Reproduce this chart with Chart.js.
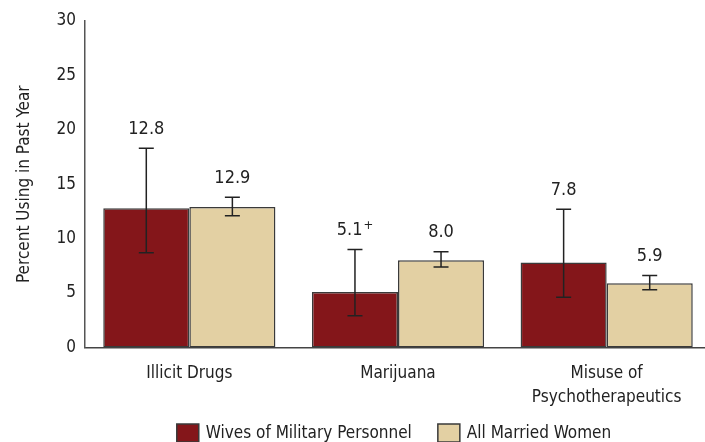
<!DOCTYPE html>
<html lang="en">
<head>
<meta charset="UTF-8">
<title>Past-Year Substance Use</title>
<script src="https://cdn.jsdelivr.net/npm/chart.js"></script>
<style>
  html, body { margin: 0; padding: 0; background: #fff; overflow: hidden; }
  .wrap { position: relative; width: 712px; height: 442px; }
</style>
</head>
<body>
<div class="wrap"><canvas id="useChart"></canvas></div>
<script>
const categories = ['Illicit Drugs', 'Marijuana', ['Misuse of', 'Psychotherapeutics']];

const wivesPct  = [12.8, 5.1, 7.8];
const wivesLow  = [8.7, 2.9, 4.6];
const wivesHigh = [18.3, 9.0, 12.7];
const wivesNotes = ['', '+', ''];

const allWomenPct  = [12.9, 8.0, 5.9];
const allWomenLow  = [12.1, 7.4, 5.3];
const allWomenHigh = [13.8, 8.8, 6.6];
const allWomenNotes = ['', '', ''];

const yMin = 0, yMax = 30, yStep = 5;

const FONT = '"Liberation Sans Narrow", "Arial Narrow", "DejaVu Sans Condensed", sans-serif';
const INK = '#222';

// error bars plus the value label sitting above each cap
const errorBars = {
  id: 'errorBars',
  afterDatasetsDraw(chart) {
    const ctx = chart.ctx;
    const y = chart.scales.y;
    ctx.save();
    chart.data.datasets.forEach((ds, i) => {
      chart.getDatasetMeta(i).data.forEach((bar, j) => {
        const top = y.getPixelForValue(ds.errHigh[j]);
        const bot = y.getPixelForValue(ds.errLow[j]);
        ctx.strokeStyle = INK;
        ctx.lineWidth = 1.5;
        ctx.beginPath();
        ctx.moveTo(bar.x, top); ctx.lineTo(bar.x, bot);
        ctx.moveTo(bar.x - 7.5, top); ctx.lineTo(bar.x + 7.5, top);
        ctx.moveTo(bar.x - 7.5, bot); ctx.lineTo(bar.x + 7.5, bot);
        ctx.stroke();

        const txt = ds.data[j].toFixed(1);
        const note = ds.notes[j];
        ctx.font = '18px ' + FONT;
        const w1 = ctx.measureText(txt).width;
        ctx.font = '13px ' + FONT;
        const w2 = note ? ctx.measureText(note).width + 1 : 0;
        const x0 = bar.x - (w1 + w2) / 2;
        ctx.fillStyle = INK;
        ctx.textAlign = 'left';
        ctx.textBaseline = 'middle';
        ctx.font = '18px ' + FONT;
        ctx.fillText(txt, x0, top - 19);
        if (note) {
          ctx.font = '13px ' + FONT;
          ctx.fillText(note, x0 + w1 + 1, top - 24);
        }
      });
    });
    ctx.restore();
  }
};

// legend row under the category labels
const bottomLegend = {
  id: 'bottomLegend',
  afterDraw(chart) {
    const ctx = chart.ctx;
    const area = chart.chartArea;
    ctx.save();
    ctx.font = '17px ' + FONT;
    const items = chart.data.datasets.map(ds => ({
      label: ds.label, color: ds.backgroundColor, w: ctx.measureText(ds.label).width
    }));
    const boxW = 22, boxH = 18, gap = 7, spacing = 26;
    let total = 0;
    items.forEach((it, k) => { total += boxW + gap + it.w + (k ? spacing : 0); });
    let x = (area.left + area.right) / 2 - total / 2 - 4;
    const cy = 434;
    items.forEach(it => {
      ctx.fillStyle = it.color;
      ctx.fillRect(x, 424, boxW, boxH);
      ctx.strokeStyle = '#3a3a3a';
      ctx.lineWidth = 1.5;
      ctx.strokeRect(x, 424, boxW, boxH);
      ctx.fillStyle = INK;
      ctx.textAlign = 'left';
      ctx.textBaseline = 'middle';
      ctx.fillText(it.label, x + boxW + gap, cy);
      x += boxW + gap + it.w + spacing;
    });
    ctx.restore();
  }
};

new Chart(document.getElementById('useChart'), {
  type: 'bar',
  data: {
    labels: categories,
    datasets: [
      {
        label: 'Wives of Military Personnel',
        data: wivesPct, errLow: wivesLow, errHigh: wivesHigh, notes: wivesNotes,
        backgroundColor: '#84161a', borderColor: '#3a3a3a', borderWidth: 1.5, borderSkipped: false,
        categoryPercentage: 0.825, barPercentage: 1.0
      },
      {
        label: 'All Married Women',
        data: allWomenPct, errLow: allWomenLow, errHigh: allWomenHigh, notes: allWomenNotes,
        backgroundColor: '#e3d0a3', borderColor: '#3a3a3a', borderWidth: 1.5, borderSkipped: false,
        categoryPercentage: 0.825, barPercentage: 1.0
      }
    ]
  },
  options: {
    responsive: true,
    maintainAspectRatio: false,
    animation: false,
    layout: { padding: { top: 21, right: 1, bottom: 19, left: 0 } },
    plugins: { legend: { display: false }, tooltip: { enabled: false } },
    scales: {
      x: {
        grid: { display: false, drawTicks: false },
        border: { color: '#444', width: 1.5 },
        ticks: { color: INK, font: { family: FONT, size: 17, lineHeight: 1.4 }, padding: 14, maxRotation: 0, autoSkip: false }
      },
      y: {
        min: yMin, max: yMax,
        grid: { display: false, drawTicks: false },
        border: { color: '#555', width: 1.5 },
        ticks: { stepSize: yStep, color: INK, font: { family: FONT, size: 17 }, padding: 9 },
        title: {
          display: true, text: 'Percent Using in Past Year', color: INK,
          font: { family: FONT, size: 17 }, padding: { top: 14, bottom: 0 }
        },
        afterFit(scale) { scale.width = 85; }
      }
    }
  },
  plugins: [errorBars, bottomLegend]
});
</script>
</body>
</html>
